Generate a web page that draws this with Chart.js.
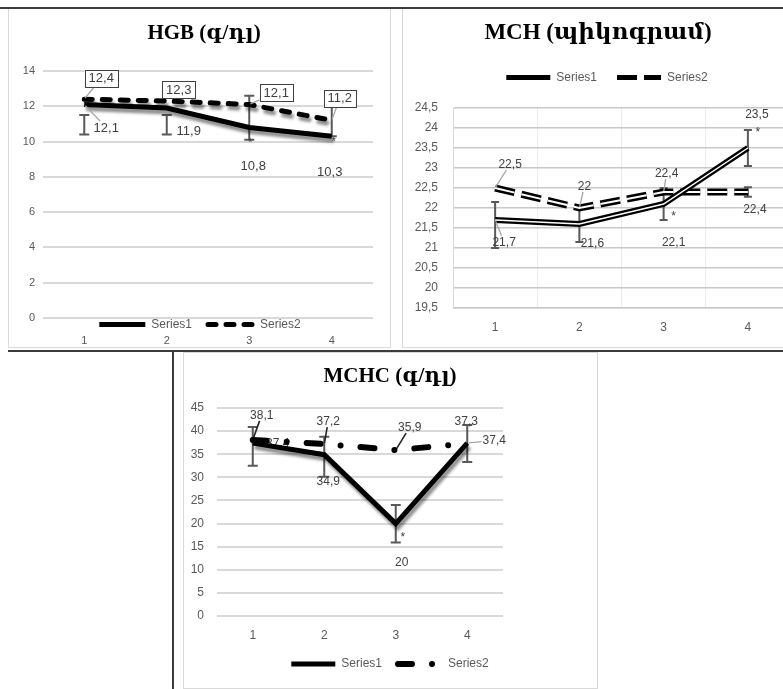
<!DOCTYPE html>
<html><head><meta charset="utf-8">
<script src="https://cdn.jsdelivr.net/npm/chart.js@4.4.1/dist/chart.umd.min.js"></script>
<style>
html,body{margin:0;padding:0;width:783px;height:689px;overflow:hidden;background:#fff;}
body{position:relative;}
.dark{position:absolute;background:#3c3c3c;}
.panel{position:absolute;border:1px solid #d9d9d9;box-sizing:border-box;background:#fff;}
canvas{position:absolute;}
</style></head><body>
<div class="panel" style="left:8px;top:8px;width:383px;height:340px;"></div>
<div class="panel" style="left:402px;top:8px;width:400px;height:340px;"></div>
<div class="panel" style="left:183px;top:352px;width:415px;height:337px;"></div>
<div class="dark" style="left:0;top:7px;width:783px;height:2px;"></div>
<div class="dark" style="left:8px;top:350px;width:775px;height:2px;"></div>
<div class="dark" style="left:172px;top:350px;width:2px;height:339px;"></div>
<canvas id="hgb" width="380" height="336" style="left:9px;top:10px;"></canvas>
<canvas id="mch" width="390" height="336" style="left:403px;top:10px;"></canvas>
<canvas id="mchc" width="412" height="334" style="left:184px;top:353px;"></canvas>
<script>
// ---------- data ----------
const categories = ['1', '2', '3', '4'];

const hgbSeries1 = [12.1, 11.9, 10.8, 10.3];
const hgbSeries2 = [12.4, 12.3, 12.1, 11.2];
const hgbErrLow  = [10.4, 10.4, 10.1, 10.3];
const hgbErrHigh = [11.5, 11.5, 12.6, 12.5];
const hgbSig     = ['', '', '*', '*'];

const mchSeries1 = [21.7, 21.6, 22.1, 23.5];
const mchSeries2 = [22.5, 22.0, 22.4, 22.4];
const mchErrLow  = [21.0, 21.15, 21.7, 23.05];
const mchErrHigh = [22.15, 22.05, 22.5, 23.95];
const mchS2ErrLow  = [null, null, null, 22.28];
const mchS2ErrHigh = [null, null, null, 22.52];
const mchSig     = ['', '', '*', '*'];

const mchcSeries1 = [37.4, 34.9, 20, 37.4];
const mchcSeries2 = [38.1, 37.2, 35.9, 37.3];
const mchcErrLow  = [32.5, 30.1, 15.9, 33.3];
const mchcErrHigh = [40.9, 38.8, 24.0, 41.3];
const mchcSig     = ['', '', '*', ''];

// ---------- helpers ----------
const fmt = v => String(v).replace('.', ',');
Chart.defaults.font.family = "'Liberation Sans', Arial, sans-serif";
Chart.defaults.color = '#595959';
const TITLE_FAMILY = "'Liberation Serif', 'DejaVu Serif', serif";

function legendItems(chart) {
  return chart.data.datasets.map((ds, i) => ({ds, i})).filter(o => o.ds.inLegend).map(({ds, i}) => ({
    text: ds.label,
    fillStyle: ds.borderColor,
    strokeStyle: ds.borderColor,
    lineWidth: ds.legendWidth || ds.borderWidth,
    lineDash: ds.borderDash || [],
    lineDashOffset: ds.legendDashOffset || 0,
    lineCap: ds.borderCapStyle || 'butt',
    pointStyle: 'line',
    hidden: false,
    fontColor: '#595959',
    datasetIndex: i
  }));
}

const boxPos = {
  id: 'boxPos',
  afterLayout(chart, args, o) {
    const lg = chart.legend;
    if (lg && o.legendTop != null) { lg.top = o.legendTop; lg.bottom = o.legendTop + 60; lg.height = 60; }
    if (lg && o.legendLeft != null) { lg.left = o.legendLeft; lg.right = o.legendRight; lg.width = o.legendRight - o.legendLeft; }
    const tb = chart.titleBlock;
    if (tb && o.titleLeft != null) { tb.left = o.titleLeft; tb.right = o.titleRight; tb.width = o.titleRight - o.titleLeft; }
  }
};

const shadowFx = {
  id: 'shadowFx',
  beforeDatasetDraw(chart, args) {
    const ds = chart.data.datasets[args.index];
    const ctx = chart.ctx;
    ctx.save();
    if (ds.shadow) {
      ctx.shadowColor = 'rgba(0,0,0,0.45)';
      ctx.shadowBlur = 3;
      ctx.shadowOffsetX = 2;
      ctx.shadowOffsetY = 4;
    }
  },
  afterDatasetDraw(chart) { chart.ctx.restore(); }
};

function drawErrors(chart, o) {
  const ctx = chart.ctx, xs = chart.scales.x, ys = chart.scales.y;
  (o.errors || []).forEach(e => {
    ctx.save();
    ctx.strokeStyle = o.errColor || '#595959';
    ctx.lineWidth = 2;
    e.low.forEach((lo, i) => {
      const hi = e.high[i];
      if (lo == null || hi == null) return;
      const x = xs.getPixelForValue(i), y1 = ys.getPixelForValue(lo), y2 = ys.getPixelForValue(hi);
      ctx.beginPath();
      ctx.moveTo(x, y1); ctx.lineTo(x, y2);
      ctx.moveTo(x - e.cap, y1); ctx.lineTo(x + e.cap, y1);
      ctx.moveTo(x - e.cap, y2); ctx.lineTo(x + e.cap, y2);
      ctx.stroke();
    });
    ctx.restore();
  });
}

function drawSig(chart, o) {
  if (!o.sig) return;
  const ctx = chart.ctx, xs = chart.scales.x, ys = chart.scales.y;
  const e = o.errors[o.sig.err || 0];
  ctx.save();
  ctx.fillStyle = '#404040';
  ctx.font = (o.sig.size || 12) + "px 'Liberation Sans', Arial, sans-serif";
  ctx.textAlign = 'center'; ctx.textBaseline = 'middle';
  o.sig.marks.forEach((m, i) => {
    const p = o.sig.place[i];
    if (!m || !p) return;
    const v = p.end === 'low' ? e.low[i] : e.high[i];
    ctx.fillText(m, xs.getPixelForValue(i) + p.dx, ys.getPixelForValue(v) + p.dy);
  });
  ctx.restore();
}

function drawLabels(chart, o) {
  const ctx = chart.ctx, xs = chart.scales.x, ys = chart.scales.y;
  (o.labels || []).forEach(g => {
    const data = chart.data.datasets[g.dataset].data;
    ctx.save();
    ctx.font = (g.size || 12) + "px 'Liberation Sans', Arial, sans-serif";
    ctx.textAlign = 'center'; ctx.textBaseline = 'middle';
    data.forEach((v, i) => {
      const off = g.offsets[i];
      if (!off) return;
      const px = xs.getPixelForValue(i), py = ys.getPixelForValue(v);
      const cx = px + off[0], cy = py + off[1];
      const txt = fmt(v);
      const w = ctx.measureText(txt).width;
      const hw = w / 2 + (g.box ? 4 : 1), hh = (g.size || 12) / 2 + (g.box ? 2 : 0);
      if (g.leader && g.leader[i]) {
        const dx = px - cx, dy = py - cy;
        const t = Math.min(Math.abs(dx) > 0 ? hw / Math.abs(dx) : Infinity, Math.abs(dy) > 0 ? hh / Math.abs(dy) : Infinity);
        if (t < 1) {
          ctx.beginPath();
          ctx.strokeStyle = g.leaderColor || '#a6a6a6';
          ctx.lineWidth = g.leaderWidth || 1.3;
          ctx.moveTo(cx + dx * t, cy + dy * t);
          ctx.lineTo(px - dx * 0.05, py - dy * 0.05);
          ctx.stroke();
        }
      }
      if (g.box) {
        ctx.fillStyle = '#fff';
        ctx.strokeStyle = '#404040';
        ctx.lineWidth = 1;
        ctx.fillRect(cx - hw, cy - hh, hw * 2, hh * 2);
        ctx.strokeRect(Math.round(cx - hw) + 0.5, Math.round(cy - hh) + 0.5, Math.round(hw * 2), Math.round(hh * 2));
      }
      ctx.fillStyle = '#404040';
      ctx.fillText(txt, cx, cy + 0.5);
    });
    ctx.restore();
  });
}

const annot = {
  id: 'annot',
  beforeDatasetsDraw(chart, args, o) {
    drawErrors(chart, o);
    if (o.labelLayer === 'before') drawLabels(chart, o);
  },
  afterDatasetsDraw(chart, args, o) {
    if (o.labelLayer !== 'before') drawLabels(chart, o);
    drawSig(chart, o);
  }
};

const baseOpts = { responsive: false, animation: false, events: [] };

// ---------- HGB ----------
new Chart(document.getElementById('hgb'), {
  type: 'line',
  data: {
    labels: categories,
    datasets: [
      { label: 'Series1', data: hgbSeries1, borderColor: '#000', borderWidth: 5, pointRadius: 0, shadow: true, inLegend: true, order: 0 },
      { label: 'Series2', data: hgbSeries2, borderColor: '#000', borderWidth: 5, borderDash: [8, 10], borderCapStyle: 'round', pointRadius: 0, shadow: true, inLegend: true, order: 1 }
    ]
  },
  options: Object.assign({}, baseOpts, {
    layout: { padding: { left: 0, right: 16, top: 0, bottom: 0 } },
    scales: {
      x: { offset: true, grid: { display: false, drawTicks: false }, border: { display: false },
           ticks: { padding: 6, font: { size: 11 } }, afterFit: s => { s.height = 18; } },
      y: { min: 0, max: 14, grid: { color: '#d9d9d9', lineWidth: 2, drawTicks: false }, border: { display: false },
           ticks: { stepSize: 2, padding: 8, font: { size: 11 }, callback: v => fmt(v) }, afterFit: s => { s.width = 34; } }
    },
    plugins: {
      title: { display: true, text: 'HGB (գ/դլ)', color: '#000', font: { family: TITLE_FAMILY, size: 21, weight: 'bold' }, padding: { top: 11, bottom: 24.8 } },
      legend: { position: 'bottom', weight: -1, maxHeight: 10,
                labels: { usePointStyle: true, pointStyleWidth: 46, padding: 16, font: { size: 12 }, generateLabels: legendItems } },
      tooltip: { enabled: false },
      boxPos: { legendTop: 292.5, legendLeft: 0, legendRight: 382, titleLeft: 0, titleRight: 390 },
      annot: {
        errors: [{ low: hgbErrLow, high: hgbErrHigh, cap: 5 }],
        sig: { marks: hgbSig, err: 0, size: 11, place: [null, null, { end: 'low', dx: 1, dy: 3 }, { end: 'low', dx: 2, dy: 6 }] },
        labelLayer: 'after',
        labels: [
          { dataset: 1, box: true, size: 13, offsets: [[17, -21], [12, -11], [27, -12], [8, -22]], leader: [true, false, true, true] },
          { dataset: 0, size: 13, offsets: [[22, 23], [22, 23], [4, 38], [-2, 36]], leader: [true, false, false, false] }
        ]
      }
    }
  }),
  plugins: [boxPos, shadowFx, annot]
});

// ---------- MCH ----------
new Chart(document.getElementById('mch'), {
  type: 'line',
  data: {
    labels: categories,
    datasets: [
      { label: 'Series1', data: mchSeries1, borderColor: '#000', borderWidth: 6, legendWidth: 5, pointRadius: 0, inLegend: true, order: 1 },
      { label: 'Series1', data: mchSeries1, borderColor: '#fff', borderWidth: 1.5, pointRadius: 0, order: 0 },
      { label: 'Series2', data: mchSeries2, borderColor: '#000', borderWidth: 7, legendWidth: 5, borderDash: [20, 7], pointRadius: 0, inLegend: true, order: 3 },
      { label: 'Series2', data: mchSeries2, borderColor: '#fff', borderWidth: 2, borderDash: [20, 7], pointRadius: 0, order: 2 }
    ]
  },
  options: Object.assign({}, baseOpts, {
    layout: { padding: { left: 0, right: 3, top: 0, bottom: 10 } },
    scales: {
      x: { offset: true, grid: { display: true, offset: true, color: '#ececec', borderDash: [2, 2], drawTicks: false },
           border: { display: true, color: '#d9d9d9', width: 1 },
           ticks: { padding: 12, font: { size: 12 } }, afterFit: s => { s.height = 28; } },
      y: { min: 19.5, max: 24.5, grid: { color: '#c8c8c8', lineWidth: 1.5, borderDash: [2, 2], drawTicks: false },
           border: { display: true, color: '#d9d9d9', width: 1 },
           ticks: { stepSize: 0.5, padding: 15, font: { size: 12 }, callback: v => fmt(v) }, afterFit: s => { s.width = 50; } }
    },
    plugins: {
      title: { display: true, text: 'MCH (պիկոգրամ)', color: '#000', font: { family: TITLE_FAMILY, size: 23, weight: 'bold' }, padding: { top: 9.2, bottom: 19.2 } },
      legend: { position: 'top', labels: { usePointStyle: true, pointStyleWidth: 44, padding: 20, font: { size: 12 }, generateLabels: legendItems } },
      tooltip: { enabled: false },
      boxPos: { legendTop: 41.5, legendLeft: 18, legendRight: 390, titleLeft: 0, titleRight: 390 },
      annot: {
        errors: [{ low: mchErrLow, high: mchErrHigh, cap: 4 }, { low: mchS2ErrLow, high: mchS2ErrHigh, cap: 4 }],
        sig: { marks: mchSig, err: 0, size: 12, place: [null, null, { end: 'low', dx: 10, dy: -3 }, { end: 'high', dx: 10, dy: 3 }] },
        labelLayer: 'after',
        labels: [
          { dataset: 2, size: 12, offsets: [[15, -24], [5, -22], [3, -19], [7, 17]], leader: [true, true, true, false] },
          { dataset: 0, size: 12, offsets: [[9, 22], [13, 19], [10, 38], [9, -34]], leader: [true, false, false, false] }
        ]
      }
    }
  }),
  plugins: [boxPos, shadowFx, annot]
});

// ---------- MCHC ----------
new Chart(document.getElementById('mchc'), {
  type: 'line',
  data: {
    labels: categories,
    datasets: [
      { label: 'Series1', data: mchcSeries1, borderColor: '#000', borderWidth: 5, pointRadius: 0, shadow: true, inLegend: true, order: 0 },
      { label: 'Series2', data: mchcSeries2, borderColor: '#000', borderWidth: 6, borderDash: [14, 20, 0.01, 20], borderCapStyle: 'round', pointRadius: 0, inLegend: true, order: 1 }
    ]
  },
  options: Object.assign({}, baseOpts, {
    layout: { padding: { left: 0, right: 93, top: 0, bottom: 7 } },
    scales: {
      x: { offset: true, grid: { display: false, drawTicks: false }, border: { display: false },
           ticks: { padding: 12, font: { size: 12 } }, afterFit: s => { s.height = 26; } },
      y: { min: 0, max: 45, grid: { color: '#d9d9d9', lineWidth: 2, drawTicks: false }, border: { display: false },
           ticks: { stepSize: 5, padding: 13, font: { size: 12 }, callback: v => fmt(v) }, afterFit: s => { s.width = 33; } }
    },
    plugins: {
      title: { display: true, text: 'MCHC (գ/դլ)', color: '#000', font: { family: TITLE_FAMILY, size: 21, weight: 'bold' }, padding: { top: 10.9, bottom: 18.9 } },
      legend: { position: 'bottom', labels: { usePointStyle: true, pointStyleWidth: 44, padding: 16, font: { size: 12 }, generateLabels: legendItems } },
      tooltip: { enabled: false },
      boxPos: { legendTop: 289, legendLeft: 0, legendRight: 412, titleLeft: 0, titleRight: 412 },
      annot: {
        errors: [{ low: mchcErrLow, high: mchcErrHigh, cap: 5 }],
        sig: { marks: mchcSig, err: 0, size: 12, place: [null, null, { end: 'low', dx: 7, dy: -5 }, null] },
        labelLayer: 'before',
        labels: [
          { dataset: 1, size: 12, offsets: [[9, -25], [4, -23], [14, -23], [-1, -22]], leader: [true, true, true, false], leaderColor: '#262626', leaderWidth: 1.6 },
          { dataset: 0, size: 12, offsets: [[25, 0], [4, 27], [6, 39], [27, -3]], leader: [false, false, false, true] }
        ]
      }
    }
  }),
  plugins: [boxPos, shadowFx, annot]
});
</script>
</body></html>
